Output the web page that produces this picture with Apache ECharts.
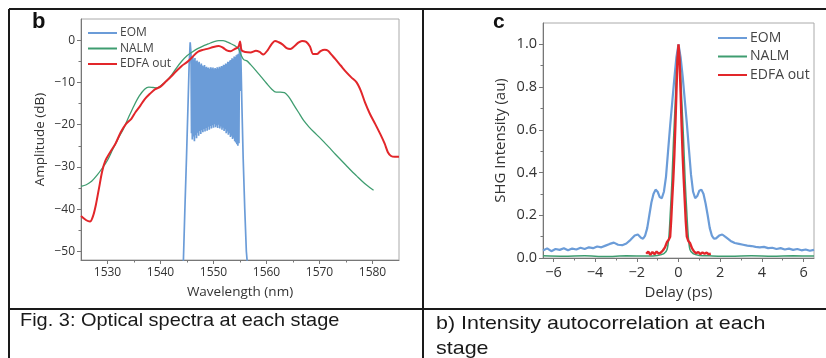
<!DOCTYPE html>
<html><head><meta charset="utf-8">
<script src="https://cdn.jsdelivr.net/npm/echarts@6/dist/echarts.min.js"></script>
<style>html,body{margin:0;padding:0;background:#fff}#c{width:826px;height:358px}</style>
</head><body><div id="c"></div>
<script>
const seriesNames = ['EOM', 'NALM', 'EDFA out'];
const seriesColors = ['#6b9cd8', '#3f9d70', '#e2262a'];

const wlTicks = [1530, 1540, 1550, 1560, 1570, 1580];
const wlMinorTicks = [1535, 1545, 1555, 1565, 1575];
const dbTicks = [-50, -40, -30, -20, -10, 0];
const dbMinorTicks = [-45, -35, -25, -15, -5];
const delayTicks = [-6, -4, -2, 0, 2, 4, 6];
const delayMinorTicks = [-5, -3, -1, 1, 3, 5];
const shgTicks = [0, 0.2, 0.4, 0.6, 0.8, 1.0];
const shgMinorTicks = [0.1, 0.3, 0.5, 0.7, 0.9];

// Panel b: optical spectra [wavelength nm, amplitude dB]
const eomSpectrum = [
  [1544.3,-53],[1544.6,-40],[1544.9,-28],[1545.2,-15],[1545.4,-6],[1545.6,-0.5],[1545.75,-3],[1545.85,-22],
  [1545.9,-4.5],[1546.0,-23.5],[1546.1,-3.8],[1546.2,-22.8],[1546.3,-4.6],[1546.4,-23.9],[1546.5,-4.2],[1546.6,-22.5],
  [1546.7,-5.0],[1546.8,-23.2],[1546.9,-4.8],[1547.0,-21.9],[1547.1,-5.3],[1547.2,-22.6],[1547.3,-5.1],[1547.4,-21.5],
  [1547.5,-5.8],[1547.6,-22.2],[1547.7,-5.5],[1547.8,-21.3],[1547.9,-6.0],[1548.0,-21.8],[1548.1,-6.2],[1548.2,-21.0],
  [1548.3,-5.9],[1548.4,-21.6],[1548.5,-6.4],[1548.6,-20.8],[1548.7,-6.3],[1548.8,-21.4],[1548.9,-6.6],[1549.0,-20.5],
  [1549.1,-6.5],[1549.2,-21.2],[1549.3,-6.8],[1549.4,-20.3],[1549.5,-6.4],[1549.6,-20.9],[1549.7,-6.7],[1549.8,-20.1],
  [1549.9,-6.5],[1550.0,-20.7],[1550.1,-6.9],[1550.2,-19.9],[1550.3,-6.6],[1550.4,-20.6],[1550.5,-6.8],[1550.6,-20.2],
  [1550.7,-6.4],[1550.8,-20.8],[1550.9,-6.7],[1551.0,-20.0],[1551.1,-6.3],[1551.2,-20.9],[1551.3,-6.5],[1551.4,-20.4],
  [1551.5,-6.1],[1551.6,-21.2],[1551.7,-6.2],[1551.8,-20.7],[1551.9,-5.8],[1552.0,-21.5],[1552.1,-5.9],[1552.2,-21.1],
  [1552.3,-5.5],[1552.4,-22.0],[1552.5,-5.6],[1552.6,-21.6],[1552.7,-5.1],[1552.8,-22.4],[1552.9,-5.2],[1553.0,-22.0],
  [1553.1,-4.8],[1553.2,-22.9],[1553.3,-4.7],[1553.4,-22.6],[1553.5,-4.3],[1553.6,-23.4],[1553.7,-4.4],[1553.8,-23.1],
  [1553.9,-3.9],[1554.0,-23.9],[1554.1,-4.0],[1554.2,-24.2],[1554.3,-3.6],[1554.4,-24.6],[1554.5,-3.4],[1554.6,-25.0],
  [1554.7,-3.2],[1554.8,-24.4],[1554.9,-1.8],[1555.0,-12],
  [1555.1,-1.0],[1555.2,-6],[1555.35,-15],[1555.6,-28],[1555.9,-40],[1556.2,-50],[1556.4,-53]
];
const nalmSpectrum = [
  [1525,-34.6],[1526,-34.2],[1527,-33.4],[1528,-32],[1529,-30.3],[1530,-28.4],[1531,-25.8],[1532,-23.3],
  [1533,-21],[1534,-18.2],[1535,-15.5],[1536,-13.2],[1537,-11.6],[1537.8,-11.1],[1538.6,-11.2],[1539.4,-11.3],
  [1540.2,-10.6],[1541,-9.8],[1542,-8.4],[1543,-6.6],[1544,-5],[1545,-3.7],[1546,-2.8],[1547,-2],[1548,-1.4],
  [1549,-0.9],[1550,-0.4],[1551,-0.1],[1551.8,-0.1],[1552.5,-0.4],[1553.2,-0.8],[1554,-1.3],[1554.7,-2],
  [1555.2,-3.5],[1555.7,-4.6],[1556.3,-4.9],[1557,-5.8],[1558,-7.2],[1559,-8.7],[1560,-10.2],[1561,-11.6],
  [1561.8,-12.3],[1562.6,-12.3],[1563.4,-12.4],[1564.2,-13.4],[1565,-15],[1566,-17],[1567,-19],[1568,-20.5],
  [1569,-21.8],[1570,-23],[1571,-24.3],[1572,-25.6],[1573,-27],[1574,-28.3],[1575,-29.6],[1576,-30.9],
  [1577,-32.1],[1578,-33.3],[1579,-34.4],[1580.2,-35.5]
];
const edfaSpectrum = [
  [1525,-41.6],[1526,-42.6],[1526.7,-42.9],[1527.3,-41.5],[1527.8,-39],[1528.4,-35],[1529,-31],[1529.6,-28.5],
  [1530.5,-26.5],[1531.5,-24.5],[1532.5,-21.8],[1533.5,-19.8],[1534.5,-18.6],[1535.3,-17],[1536.2,-15.5],
  [1537,-14],[1538,-12.7],[1539,-11.6],[1540,-11],[1541,-9.8],[1542,-8.6],[1543,-7.3],[1544,-6.1],[1545,-5.2],
  [1546,-4],[1547,-2.8],[1548,-2.3],[1549,-2],[1550,-1.6],[1551,-1.4],[1551.8,-1.8],[1552.5,-2.4],[1553.2,-2.6],
  [1554,-2.1],[1554.7,-1.6],[1555,-0.3],[1555.3,-2.4],[1556,-2.8],[1557,-2.9],[1558,-2.5],[1558.7,-2.8],
  [1559.4,-3.4],[1560.2,-2.4],[1561,-0.9],[1561.6,-0.2],[1562.3,-0.5],[1563,-1],[1563.8,-1.9],[1564.5,-2.1],
  [1565.3,-1.4],[1566,-0.6],[1566.7,-0.2],[1567.5,-0.4],[1568.2,-1.5],[1568.8,-3.3],[1569.5,-3.3],[1570.2,-2.6],
  [1571,-2.3],[1571.6,-2.5],[1572.3,-3.5],[1573,-4.5],[1574,-6],[1575,-7.5],[1576,-8.8],[1577,-10],[1577.8,-12],
  [1578.6,-14.8],[1579.5,-17.4],[1580.5,-19.8],[1581.5,-22.3],[1582.3,-24.5],[1582.9,-26.5],[1583.5,-27.4],
  [1584.2,-27.6],[1585,-27.6]
];

// Panel c: intensity autocorrelation [delay ps, SHG intensity au]
const eomAutocorr = [
  [-6.5,0.035],[-6.3,0.045],[-6.1,0.032],[-5.9,0.042],[-5.7,0.038],[-5.5,0.046],[-5.3,0.036],[-5.1,0.044],
  [-4.9,0.040],[-4.7,0.048],[-4.5,0.042],[-4.3,0.050],[-4.1,0.046],[-3.9,0.054],[-3.7,0.050],[-3.5,0.058],
  [-3.3,0.066],[-3.1,0.072],[-2.9,0.062],[-2.7,0.060],[-2.5,0.068],[-2.3,0.085],[-2.1,0.105],[-1.95,0.11],
  [-1.8,0.095],[-1.7,0.09],[-1.6,0.105],[-1.5,0.14],[-1.4,0.2],[-1.3,0.26],[-1.2,0.30],[-1.1,0.32],[-1.0,0.31],
  [-0.9,0.285],[-0.8,0.28],[-0.7,0.31],[-0.6,0.38],[-0.5,0.5],[-0.4,0.62],[-0.3,0.73],[-0.2,0.84],[-0.1,0.94],
  [0,1.0],[0.1,0.94],[0.2,0.85],[0.3,0.74],[0.4,0.63],[0.5,0.51],[0.6,0.39],[0.7,0.31],[0.8,0.28],[0.9,0.29],
  [1.0,0.315],[1.1,0.32],[1.2,0.30],[1.3,0.255],[1.4,0.2],[1.5,0.14],[1.6,0.105],[1.7,0.09],[1.8,0.092],
  [1.95,0.105],[2.1,0.11],[2.3,0.095],[2.5,0.08],[2.7,0.07],[2.9,0.066],[3.1,0.062],[3.3,0.058],[3.5,0.056],
  [3.7,0.052],[3.9,0.050],[4.1,0.052],[4.3,0.046],[4.5,0.048],[4.7,0.042],[4.9,0.046],[5.1,0.040],[5.3,0.044],
  [5.5,0.038],[5.7,0.042],[5.9,0.036],[6.1,0.040],[6.3,0.034],[6.5,0.038]
];
const nalmAutocorr = [
  [-6.5,0.01],[-5.5,0.008],[-4.5,0.01],[-3.5,0.007],[-2.5,0.01],[-1.5,0.009],[-1.0,0.012],[-0.7,0.02],
  [-0.55,0.04],[-0.46,0.1],[-0.4,0.2],[-0.32,0.35],[-0.24,0.55],[-0.16,0.72],[-0.08,0.9],[0,0.97],
  [0.08,0.9],[0.16,0.73],[0.24,0.56],[0.32,0.36],[0.4,0.21],[0.47,0.1],[0.55,0.04],[0.7,0.02],[1.0,0.012],
  [1.5,0.01],[2.5,0.008],[3.5,0.01],[4.5,0.008],[5.5,0.01],[6.5,0.009]
];
const edfaAutocorr = [
  [-1.55,0.02],[-1.45,0.03],[-1.35,0.015],[-1.25,0.028],[-1.15,0.018],[-1.05,0.03],[-0.95,0.02],[-0.85,0.025],
  [-0.75,0.035],[-0.65,0.05],[-0.55,0.075],[-0.47,0.085],[-0.4,0.1],[-0.35,0.18],[-0.3,0.28],[-0.25,0.37],
  [-0.2,0.48],[-0.15,0.62],[-0.1,0.78],[-0.05,0.93],[0,1.0],[0.05,0.93],[0.1,0.78],[0.15,0.62],[0.2,0.48],
  [0.25,0.37],[0.3,0.27],[0.35,0.17],[0.4,0.1],[0.47,0.08],[0.55,0.07],[0.65,0.045],[0.75,0.03],[0.85,0.022],
  [0.95,0.028],[1.05,0.018],[1.15,0.026],[1.25,0.02],[1.35,0.025],[1.45,0.018],[1.55,0.02]
];

const FONT = 'Open Sans';
const minus = v => String(v).replace('-', '\u2212');
const axisColor = '#777';
const labelColor = '#333';

function mainAxis(opts) {
  return Object.assign({
    type: 'value',
    axisLine: { show: true, onZero: false, lineStyle: { color: axisColor, width: 1 } },
    splitLine: { show: false },
    nameLocation: 'middle'
  }, opts);
}
function minorAxis(opts) {
  return Object.assign({
    type: 'value',
    axisLine: { show: false, onZero: false },
    axisLabel: { show: false },
    splitLine: { show: false }
  }, opts);
}

const chart = echarts.init(document.getElementById('c'), null, { renderer: 'canvas' });
const option = {
  animation: false,
  backgroundColor: '#fff',
  grid: [
    { left: 81, top: 19, width: 318, height: 241, show: true, borderColor: '#aaa', borderWidth: 1 },
    { left: 543, top: 23, width: 271, height: 235, show: true, borderColor: '#aaa', borderWidth: 1 }
  ],
  xAxis: [
    mainAxis({ gridIndex: 0, min: 1525, max: 1585, name: 'Wavelength (nm)', nameGap: 25,
      nameTextStyle: { color: labelColor, fontFamily: FONT, fontSize: 13.5 },
      axisTick: { show: true, length: 4, customValues: wlTicks, lineStyle: { color: axisColor } },
      axisLabel: { color: labelColor, fontFamily: FONT, fontSize: 12, margin: 7, customValues: wlTicks, formatter: v => String(v) } }),
    minorAxis({ gridIndex: 0, min: 1525, max: 1585, position: 'bottom',
      axisTick: { show: true, length: 2.5, customValues: wlMinorTicks, lineStyle: { color: axisColor } } }),
    mainAxis({ gridIndex: 1, min: -6.5, max: 6.5, name: 'Delay (ps)', nameGap: 26,
      nameTextStyle: { color: labelColor, fontFamily: FONT, fontSize: 15 },
      axisTick: { show: true, length: 4, customValues: delayTicks, lineStyle: { color: axisColor } },
      axisLabel: { color: labelColor, fontFamily: FONT, fontSize: 14.5, margin: 7, customValues: delayTicks, formatter: minus } }),
    minorAxis({ gridIndex: 1, min: -6.5, max: 6.5, position: 'bottom',
      axisTick: { show: true, length: 2.5, customValues: delayMinorTicks, lineStyle: { color: axisColor } } })
  ],
  yAxis: [
    mainAxis({ gridIndex: 0, min: -52, max: 5, name: 'Amplitude (dB)', nameGap: 34,
      nameTextStyle: { color: labelColor, fontFamily: FONT, fontSize: 13.5 },
      axisTick: { show: true, length: 4, customValues: dbTicks, lineStyle: { color: axisColor } },
      axisLabel: { color: labelColor, fontFamily: FONT, fontSize: 12, margin: 6, customValues: dbTicks, formatter: minus } }),
    minorAxis({ gridIndex: 0, min: -52, max: 5, position: 'left',
      axisTick: { show: true, length: 2.5, customValues: dbMinorTicks, lineStyle: { color: axisColor } } }),
    mainAxis({ gridIndex: 1, min: 0, max: 1.1, name: 'SHG Intensity (au)', nameGap: 35,
      nameTextStyle: { color: labelColor, fontFamily: FONT, fontSize: 15 },
      axisTick: { show: true, length: 4, customValues: shgTicks, lineStyle: { color: axisColor } },
      axisLabel: { color: labelColor, fontFamily: FONT, fontSize: 14.5, margin: 6, customValues: shgTicks, formatter: v => v.toFixed(1) } }),
    minorAxis({ gridIndex: 1, min: 0, max: 1.1, position: 'left',
      axisTick: { show: true, length: 2.5, customValues: shgMinorTicks, lineStyle: { color: axisColor } } })
  ],
  legend: [
    { orient: 'vertical', left: 83, top: 21.5, itemWidth: 29, itemHeight: 2, itemGap: 2.5, icon: 'rect',
      data: seriesNames, textStyle: { color: '#444', fontFamily: FONT, fontSize: 12, lineHeight: 13, padding: [0, 0, 0, -2] },
      selectedMode: false },
    { orient: 'vertical', left: 713, top: 25, itemWidth: 29, itemHeight: 2, itemGap: 2.5, icon: 'rect',
      data: seriesNames, textStyle: { color: '#444', fontFamily: FONT, fontSize: 14, lineHeight: 16, padding: [0, 0, 0, -2] },
      selectedMode: false }
  ],
  series: [
    { name: seriesNames[0], type: 'line', xAxisIndex: 0, yAxisIndex: 0, data: eomSpectrum, showSymbol: false, symbol: 'none',
      color: seriesColors[0], lineStyle: { width: 1.7, color: seriesColors[0] }, z: 2 },
    { name: seriesNames[1], type: 'line', xAxisIndex: 0, yAxisIndex: 0, data: nalmSpectrum, showSymbol: false, symbol: 'none', smooth: 0.3,
      color: seriesColors[1], lineStyle: { width: 1.3, color: seriesColors[1] }, z: 3 },
    { name: seriesNames[2], type: 'line', xAxisIndex: 0, yAxisIndex: 0, data: edfaSpectrum, showSymbol: false, symbol: 'none', smooth: 0.3,
      color: seriesColors[2], lineStyle: { width: 2, color: seriesColors[2] }, z: 4 },
    { name: seriesNames[0], type: 'line', xAxisIndex: 2, yAxisIndex: 2, data: eomAutocorr, showSymbol: false, symbol: 'none',
      color: seriesColors[0], lineStyle: { width: 2.2, color: seriesColors[0] }, z: 2 },
    { name: seriesNames[1], type: 'line', xAxisIndex: 2, yAxisIndex: 2, data: nalmAutocorr, showSymbol: false, symbol: 'none', smooth: 0.3,
      color: seriesColors[1], lineStyle: { width: 1.5, color: seriesColors[1] }, z: 3 },
    { name: seriesNames[2], type: 'line', xAxisIndex: 2, yAxisIndex: 2, data: edfaAutocorr, showSymbol: false, symbol: 'none',
      color: seriesColors[2], lineStyle: { width: 2.4, color: seriesColors[2] }, z: 4 }
  ],
  graphic: [
    { type: 'line', shape: { x1: 9, y1: 9, x2: 826, y2: 9 }, style: { stroke: '#1a1a1a', lineWidth: 2 } },
    { type: 'line', shape: { x1: 9, y1: 9, x2: 9, y2: 358 }, style: { stroke: '#1a1a1a', lineWidth: 2 } },
    { type: 'line', shape: { x1: 423, y1: 9, x2: 423, y2: 358 }, style: { stroke: '#1a1a1a', lineWidth: 2 } },
    { type: 'line', shape: { x1: 9, y1: 309, x2: 826, y2: 309 }, style: { stroke: '#1a1a1a', lineWidth: 2 } },
    { type: 'text', x: 32, y: 11, style: { text: 'b', font: 'bold 22px "Liberation Sans"', fill: '#111' } },
    { type: 'text', x: 493, y: 12, style: { text: 'c', font: 'bold 21px "Liberation Sans"', fill: '#111' } },
    { type: 'text', x: 20, y: 311, scaleX: 1.05, style: { text: 'Fig. 3: Optical spectra at each stage', font: '19px "Liberation Sans"', fill: '#1a1a1a' } },
    { type: 'text', x: 436, y: 311, scaleX: 1.13, style: { text: 'b) Intensity autocorrelation at each\nstage', font: '19px "Liberation Sans"', lineHeight: 25, fill: '#1a1a1a' } }
  ]
};
chart.setOption(option);
</script>
</body></html>
